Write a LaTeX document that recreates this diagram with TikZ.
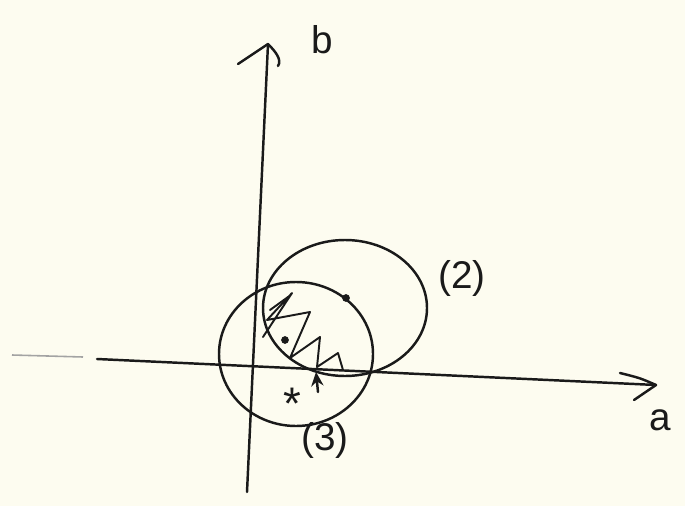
\documentclass[tikz,border=0pt]{standalone}
\usepackage{fontspec}
\setmainfont{Liberation Sans}
\usetikzlibrary{arrows.meta}
\definecolor{paper}{HTML}{FDFCF0}
\definecolor{ink}{HTML}{1A1A1A}
\tikzset{
  pen/.style={draw=ink, line width=1.4pt, line cap=round, line join=round},
  thinpen/.style={draw=ink, line width=1.1pt, line cap=round, line join=round},
  hand/.style={text=ink, font=\fontsize{22}{26}\selectfont, inner sep=0pt}
}
\begin{document}
\begin{tikzpicture}[x=0.02cm, y=-0.02cm]
  \fill[paper] (0,0) rectangle (685,506);
  \useasboundingbox (0,0) rectangle (685,506);
  % axes
  \coordinate (vbot) at (247,492);
  \coordinate (vtop) at (268,44);
  \draw[pen] (vbot) -- (vtop);
  \draw[pen] (238,64) -- (vtop) .. controls (276,52) and (282,60) .. (278,66);
  \draw[draw=ink!40, line width=0.9pt] (12,355) -- (83,357);
  \coordinate (hleft) at (97,359);
  \coordinate (hright) at (656,385);
  \draw[pen] (hleft) -- (hright);
  \draw[pen] (620,373) .. controls (640,378) .. (hright) -- (634,400);
  \node[hand] (labb) at (322,40) {b};
  \node[hand] (laba) at (660,420) {a};
  % circles
  \draw[pen] (345,308) ellipse [x radius=82, y radius=68];
  \draw[pen] (296,354) ellipse [x radius=77, y radius=72];
  \node[hand] (lab2) at (462,278) {(2)};
  \node[hand] (lab3) at (325,440) {(3)};
  % dots
  \fill[ink] (346,298) circle [radius=2.2pt];
  \fill[ink] (285,340) circle [radius=2.2pt];
  % hatching zigzag
  \draw[thinpen] (263,337) -- (292,293) -- (267,320) -- (310,312) -- (290,358)
     -- (320,337) -- (317,367) -- (338,353) -- (343,370);
  \draw[thinpen] (270,310) -- (288,297);
  % small arrow mark
  \coordinate (mbot) at (318,392);
  \coordinate (mtop) at (316,372);
  \draw[pen, -{Stealth[length=8pt,width=7pt]}] (mbot) -- (mtop);
  % star
  \node[hand, font=\fontsize{26}{28}\selectfont] (star) at (292,404) {*};
\end{tikzpicture}
\end{document}
